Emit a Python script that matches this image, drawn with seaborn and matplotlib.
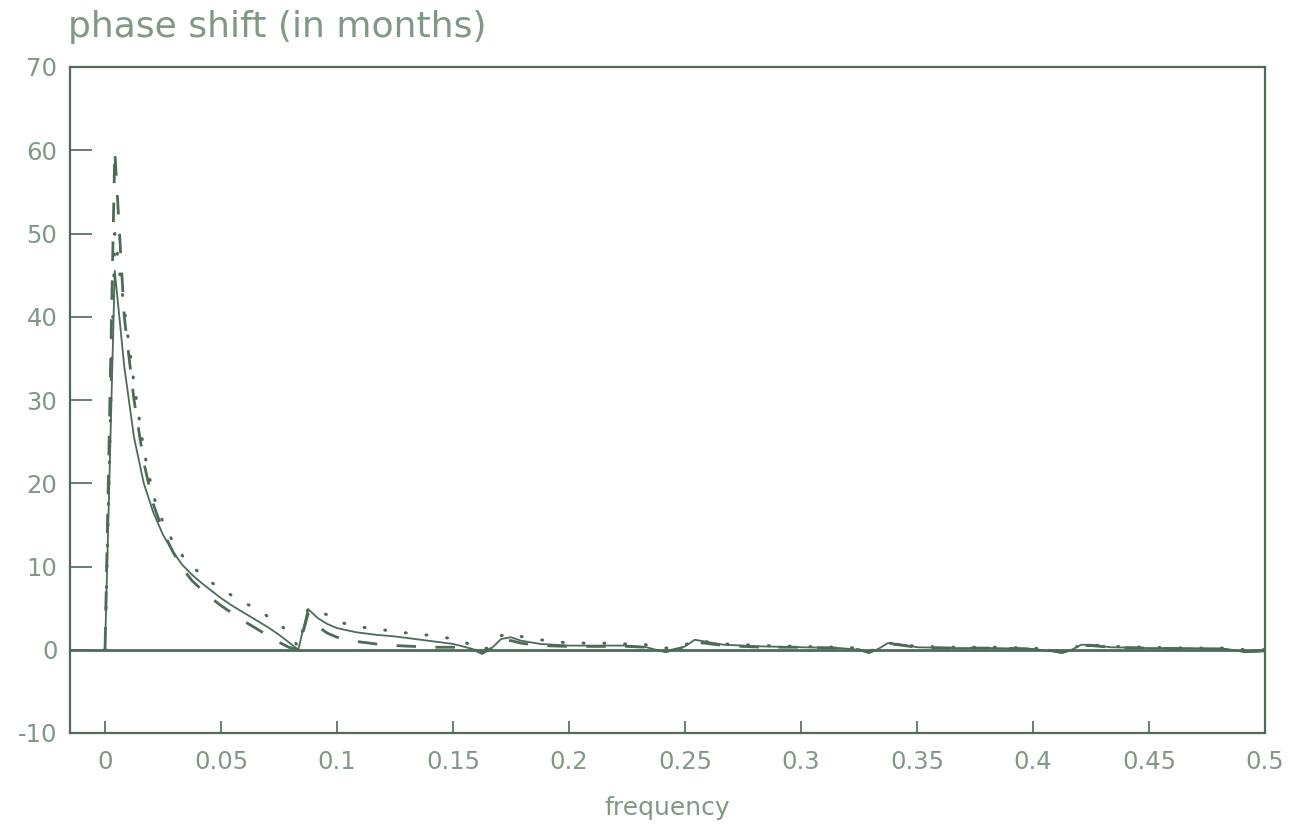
import matplotlib
matplotlib.use("Agg")
import matplotlib.pyplot as plt
import seaborn as sns
import numpy as np

freq = [0, 0.0042, 0.0083, 0.0125, 0.0167, 0.0208, 0.025, 0.0292, 0.0333, 0.0375,
        0.0417, 0.0458, 0.05, 0.0542, 0.0583, 0.0625, 0.0667, 0.0708, 0.075, 0.0792,
        0.0833, 0.0875, 0.0917, 0.0958, 0.1, 0.1083, 0.1167, 0.125, 0.1333, 0.1417,
        0.15, 0.1542, 0.1583, 0.1625, 0.1667, 0.1708, 0.175, 0.1792, 0.1875, 0.2,
        0.2125, 0.225, 0.2333, 0.2417, 0.25, 0.2542, 0.2583, 0.2667, 0.2833, 0.3,
        0.3167, 0.325, 0.3292, 0.3333, 0.3375, 0.3417, 0.35, 0.3667, 0.3833, 0.4,
        0.4083, 0.4125, 0.4167, 0.4208, 0.425, 0.4333, 0.45, 0.4667, 0.4833, 0.4917,
        0.5]

solid = [0, 45.5, 34, 25.5, 20, 16.5, 13.8, 11.8, 10.2, 9.0,
         8.0, 7.1, 6.2, 5.4, 4.7, 4.0, 3.3, 2.6, 1.8, 0.9,
         0.0, 4.9, 3.8, 3.1, 2.6, 2.1, 1.8, 1.6, 1.3, 1.0,
         0.7, 0.4, 0.1, -0.5, 0.2, 1.3, 1.5, 1.1, 0.7, 0.5,
         0.5, 0.5, 0.3, -0.3, 0.4, 1.2, 1.0, 0.6, 0.4, 0.3,
         0.2, 0.0, -0.4, 0.1, 0.8, 0.7, 0.3, 0.2, 0.2, 0.1,
         -0.2, -0.4, 0.0, 0.6, 0.6, 0.3, 0.2, 0.2, 0.1, -0.3,
         -0.2]

dashed = [0, 60, 40, 30, 22.5, 17.5, 14.2, 11.8, 9.8, 8.3,
          7.2, 6.2, 5.3, 4.5, 3.7, 3.0, 2.3, 1.6, 0.9, 0.3,
          0.0, 4.3, 2.8, 2.0, 1.5, 1.0, 0.7, 0.5, 0.4, 0.3,
          0.3, 0.2, 0.1, -0.4, 0.2, 1.0, 1.1, 0.8, 0.5, 0.4,
          0.4, 0.4, 0.3, -0.2, 0.3, 0.9, 0.8, 0.5, 0.3, 0.3,
          0.2, 0.0, -0.3, 0.1, 0.7, 0.6, 0.3, 0.2, 0.2, 0.1,
          -0.1, -0.3, 0.0, 0.5, 0.5, 0.3, 0.2, 0.1, 0.1, -0.2,
          -0.1]

dotted = [0, 50, 41, 32, 24, 18.5, 15.3, 13.0, 11.3, 10.0,
          9.0, 8.1, 7.3, 6.6, 5.9, 5.3, 4.6, 3.9, 3.1, 2.1,
          0.3, 4.9, 4.6, 4.2, 3.4, 2.8, 2.5, 2.2, 1.9, 1.7,
          1.3, 1.0, 0.5, 0.0, 0.4, 1.7, 2.0, 1.6, 1.2, 0.8,
          0.8, 0.7, 0.6, 0.2, 0.6, 1.1, 1.0, 0.7, 0.5, 0.4,
          0.3, 0.2, -0.2, 0.2, 0.8, 0.7, 0.4, 0.3, 0.3, 0.2,
          0.0, -0.2, 0.1, 0.6, 0.6, 0.4, 0.3, 0.2, 0.2, 0.0,
          0.0]

xticks = [0, 0.05, 0.1, 0.15, 0.2, 0.25, 0.3, 0.35, 0.4, 0.45, 0.5]
xticklabels = ["0", "0.05", "0.1", "0.15", "0.2", "0.25", "0.3", "0.35", "0.4", "0.45", "0.5"]
yticks = [-10, 0, 10, 20, 30, 40, 50, 60, 70]
yticklabels = ["-10", "0", "10", "20", "30", "40", "50", "60", "70"]

sns.set_theme(style="white")
plt.rcParams['font.family'] = ['DejaVu Sans']

LINE = "#4d6b57"
TEXT = "#7f9985"

fig = plt.figure(figsize=(12.99, 8.25), dpi=100)
fig.patch.set_facecolor("white")
ax = fig.add_axes([70/1299, 92/825, 1195/1299, 666/825])
ax.set_facecolor("white")

ax.axhline(0, color=LINE, lw=2.0, zorder=1)
sns.lineplot(x=freq, y=solid, ax=ax, color=LINE, lw=1.3, zorder=3)
sns.lineplot(x=freq, y=dashed, ax=ax, color=LINE, lw=2.0, linestyle=(0, (7, 7)), zorder=2)
sns.lineplot(x=freq, y=dotted, ax=ax, color=LINE, lw=2.2, linestyle=(0, (0.3, 6.5)),
             dash_capstyle="round", zorder=2)

ax.set_xlim(-0.0151, 0.5)
ax.set_ylim(-10, 70)
ax.set_xticks(xticks)
ax.set_xticklabels(xticklabels)
ax.set_yticks(yticks)
ax.set_yticklabels(yticklabels)

for s in ax.spines.values():
    s.set_visible(True)
    s.set_color(LINE)
    s.set_linewidth(1.6)

ax.tick_params(axis="x", bottom=True, top=False, direction="in", length=9, width=1.2,
               color=LINE, labelcolor=TEXT, labelsize=17.5, pad=12)
ax.tick_params(axis="y", left=True, right=False, direction="in", length=16, width=1.2,
               color=LINE, labelcolor=TEXT, labelsize=17.5, pad=9)

ax.set_xlabel("frequency", color=TEXT, fontsize=18, labelpad=16)
fig.text(68/1299, 1 - 37/825, "phase shift (in months)", color=TEXT, fontsize=26,
         ha="left", va="baseline")

fig.savefig("out.png", dpi=100, facecolor="white")
